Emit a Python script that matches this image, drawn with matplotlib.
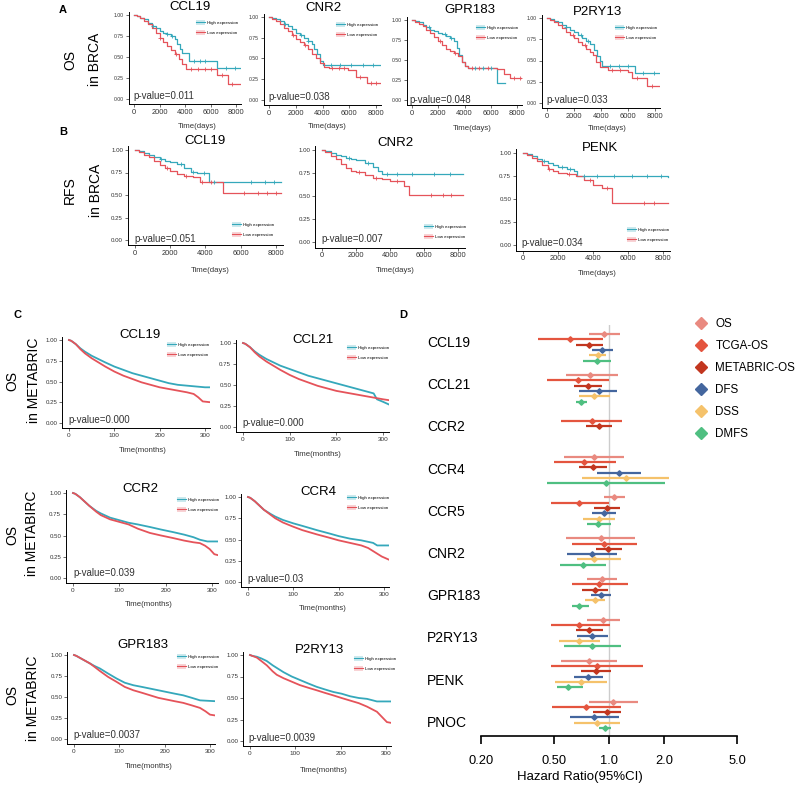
import numpy as np
import matplotlib.pyplot as plt
from matplotlib.lines import Line2D
from matplotlib.patches import Patch
from matplotlib.ticker import NullLocator
from matplotlib.transforms import blended_transform_factory

plt.rcParams['font.family'] = ['Liberation Sans', 'DejaVu Sans']

# ---------------- data: Kaplan-Meier curves ----------------
# A: OS in BRCA (days)
a1_hi_t = [0, 200, 500, 800, 1100, 1400, 1700, 2000, 2300, 2600, 2900, 3200, 3400, 3600, 3800, 4300, 6500, 8300]
a1_hi_s = [1, 0.99, 0.97, 0.95, 0.91, 0.87, 0.84, 0.81, 0.79, 0.77, 0.75, 0.71, 0.66, 0.59, 0.55, 0.45, 0.37, 0.37]
a1_lo_t = [0, 200, 500, 800, 1100, 1400, 1700, 2000, 2300, 2600, 2900, 3200, 3500, 3800, 4100, 6500, 7400, 8300]
a1_lo_s = [1, 0.99, 0.96, 0.93, 0.89, 0.84, 0.79, 0.73, 0.68, 0.63, 0.58, 0.53, 0.48, 0.42, 0.36, 0.28, 0.18, 0.18]
a1_hi_c = [1500, 2600, 3000, 4700, 5200, 5600, 7200, 7900]
a1_lo_c = [2000, 3300, 4500, 5000, 5600, 6000, 6900, 7700]

a2_hi_t = [0, 200, 500, 800, 1100, 1400, 1700, 2000, 2300, 2600, 2900, 3200, 3400, 3600, 3800, 4000, 8300]
a2_hi_s = [1, 0.99, 0.97, 0.95, 0.92, 0.89, 0.85, 0.81, 0.78, 0.75, 0.71, 0.67, 0.61, 0.55, 0.47, 0.42, 0.42]
a2_lo_t = [0, 200, 500, 800, 1100, 1400, 1700, 2000, 2300, 2600, 2900, 3200, 3500, 3800, 4100, 4500, 5900, 6500, 7300, 8300]
a2_lo_s = [1, 0.98, 0.95, 0.91, 0.87, 0.83, 0.78, 0.74, 0.70, 0.66, 0.61, 0.56, 0.51, 0.45, 0.40, 0.38, 0.36, 0.28, 0.20, 0.20]
a2_hi_c = [1200, 2400, 2900, 4600, 5300, 6100, 7000, 7800]
a2_lo_c = [1800, 2700, 4700, 5200, 5600, 6800, 7600, 8000]

a3_hi_t = [0, 200, 500, 800, 1100, 1400, 1700, 2000, 2300, 2600, 2900, 3200, 3400, 3600, 3800, 4000, 4300, 6500, 7100]
a3_hi_s = [1, 0.99, 0.97, 0.94, 0.91, 0.88, 0.86, 0.84, 0.82, 0.80, 0.78, 0.74, 0.65, 0.56, 0.48, 0.43, 0.40, 0.21, 0.21]
a3_lo_t = [0, 200, 500, 800, 1100, 1400, 1700, 2000, 2300, 2600, 2900, 3200, 3500, 3800, 4000, 4300, 6500, 7000, 7500, 8500]
a3_lo_s = [1, 0.98, 0.95, 0.92, 0.88, 0.84, 0.79, 0.74, 0.69, 0.64, 0.61, 0.59, 0.55, 0.48, 0.42, 0.40, 0.39, 0.33, 0.27, 0.27]
a3_hi_c = [1300, 2500, 3000, 4800, 5400, 6000]
a3_lo_c = [2100, 3300, 4600, 5100, 5800, 7800, 8200]

a4_hi_t = [0, 200, 500, 800, 1100, 1400, 1700, 2000, 2300, 2600, 2900, 3200, 3500, 3700, 3900, 4100, 6500, 8300]
a4_hi_s = [1, 0.99, 0.97, 0.95, 0.92, 0.89, 0.86, 0.83, 0.80, 0.77, 0.73, 0.69, 0.62, 0.55, 0.50, 0.44, 0.35, 0.35]
a4_lo_t = [0, 200, 500, 800, 1100, 1400, 1700, 2000, 2300, 2600, 2900, 3200, 3400, 3600, 3900, 4500, 6000, 6300, 7400, 8300]
a4_lo_s = [1, 0.98, 0.95, 0.92, 0.88, 0.84, 0.80, 0.76, 0.72, 0.68, 0.64, 0.60, 0.56, 0.48, 0.42, 0.39, 0.37, 0.30, 0.20, 0.20]
a4_hi_c = [1400, 2500, 3000, 4700, 5300, 6000, 7100, 7900]
a4_lo_c = [1900, 2800, 4800, 5400, 6700, 7800]

# B: RFS in BRCA (days)
b1_hi_t = [0, 200, 500, 800, 1100, 1400, 1700, 2000, 2400, 2800, 3200, 3500, 4200, 8300]
b1_hi_s = [1, 0.99, 0.97, 0.95, 0.92, 0.90, 0.88, 0.87, 0.84, 0.80, 0.76, 0.74, 0.65, 0.65]
b1_lo_t = [0, 200, 500, 800, 1100, 1400, 1700, 2000, 2400, 2800, 3300, 3700, 5000, 8300]
b1_lo_s = [1, 0.98, 0.95, 0.92, 0.88, 0.83, 0.80, 0.77, 0.73, 0.71, 0.70, 0.65, 0.52, 0.52]
b1_hi_c = [1500, 2600, 3300, 3900, 4500, 6600, 7400, 7900]
b1_lo_c = [1800, 2900, 3800, 4300, 6200, 7000, 7500, 8000]

b2_hi_t = [0, 200, 500, 800, 1100, 1400, 1700, 2000, 2500, 3000, 3300, 3500, 8300]
b2_hi_s = [1, 0.99, 0.97, 0.95, 0.93, 0.91, 0.90, 0.89, 0.86, 0.81, 0.77, 0.74, 0.74]
b2_lo_t = [0, 200, 500, 800, 1100, 1400, 1700, 2000, 2500, 3000, 3500, 4000, 4800, 5100, 8300]
b2_lo_s = [1, 0.98, 0.94, 0.90, 0.85, 0.80, 0.77, 0.76, 0.73, 0.70, 0.68, 0.66, 0.61, 0.51, 0.51]
b2_hi_c = [1600, 2700, 3800, 4400, 5300, 6600, 7500]
b2_lo_c = [2200, 3200, 4400, 6400, 7100, 7600]

b3_hi_t = [0, 200, 500, 800, 1100, 1400, 1700, 2000, 2500, 2900, 3100, 8300]
b3_hi_s = [1, 0.99, 0.97, 0.94, 0.91, 0.89, 0.87, 0.85, 0.83, 0.80, 0.75, 0.74]
b3_lo_t = [0, 200, 500, 800, 1100, 1400, 1700, 2000, 2500, 3000, 3500, 4000, 4500, 5100, 8300]
b3_lo_s = [1, 0.98, 0.95, 0.91, 0.87, 0.83, 0.80, 0.78, 0.77, 0.75, 0.71, 0.65, 0.62, 0.46, 0.46]
b3_hi_c = [1200, 2200, 2700, 3500, 4200, 5200, 6200, 7100, 7900]
b3_lo_c = [1500, 2600, 3800, 4800, 6900, 7500]

# C: OS in METABRIC (months)
c1_hi_t = [0, 5, 15, 25, 35, 50, 65, 80, 100, 120, 140, 160, 180, 200, 220, 240, 260, 280, 300, 312]
c1_hi_s = [1, 0.99, 0.95, 0.90, 0.86, 0.81, 0.77, 0.73, 0.68, 0.64, 0.60, 0.57, 0.54, 0.51, 0.48, 0.46, 0.45, 0.44, 0.43, 0.43]
c1_lo_t = [0, 5, 15, 25, 35, 50, 65, 80, 100, 120, 140, 160, 180, 200, 220, 240, 260, 275, 285, 295, 312]
c1_lo_s = [1, 0.99, 0.95, 0.89, 0.84, 0.78, 0.73, 0.68, 0.62, 0.57, 0.53, 0.49, 0.46, 0.43, 0.41, 0.39, 0.37, 0.35, 0.31, 0.26, 0.25]

c2_hi_t = [0, 5, 15, 25, 35, 50, 65, 80, 100, 120, 140, 160, 180, 200, 220, 240, 260, 280, 287, 300, 312]
c2_hi_s = [1, 0.99, 0.95, 0.90, 0.86, 0.81, 0.77, 0.73, 0.69, 0.65, 0.61, 0.58, 0.55, 0.52, 0.49, 0.46, 0.43, 0.40, 0.33, 0.30, 0.27]
c2_lo_t = [0, 5, 15, 25, 35, 50, 65, 80, 100, 120, 140, 160, 180, 200, 220, 240, 260, 280, 300, 312]
c2_lo_s = [1, 0.99, 0.95, 0.89, 0.84, 0.78, 0.73, 0.68, 0.62, 0.57, 0.53, 0.49, 0.46, 0.43, 0.41, 0.39, 0.37, 0.35, 0.33, 0.32]

c3_hi_t = [0, 5, 15, 25, 35, 50, 60, 80, 100, 120, 140, 166, 190, 216, 240, 260, 274, 290, 312]
c3_hi_s = [1, 0.99, 0.95, 0.90, 0.85, 0.79, 0.76, 0.71, 0.68, 0.65, 0.63, 0.60, 0.57, 0.54, 0.51, 0.48, 0.45, 0.43, 0.43]
c3_lo_t = [0, 5, 15, 25, 35, 50, 60, 80, 100, 120, 140, 166, 190, 216, 240, 260, 274, 285, 295, 305, 312]
c3_lo_s = [1, 0.99, 0.95, 0.90, 0.85, 0.78, 0.74, 0.69, 0.66, 0.63, 0.58, 0.53, 0.50, 0.47, 0.44, 0.42, 0.41, 0.38, 0.34, 0.28, 0.27]

c4_hi_t = [0, 5, 15, 25, 35, 50, 60, 77, 100, 120, 152, 180, 200, 225, 250, 276, 285, 312]
c4_hi_s = [1, 0.99, 0.95, 0.90, 0.85, 0.80, 0.77, 0.73, 0.69, 0.66, 0.61, 0.57, 0.54, 0.51, 0.49, 0.46, 0.43, 0.43]
c4_lo_t = [0, 5, 15, 25, 35, 50, 60, 77, 100, 120, 152, 180, 200, 225, 250, 265, 280, 295, 312]
c4_lo_s = [1, 0.99, 0.95, 0.90, 0.85, 0.79, 0.75, 0.70, 0.65, 0.61, 0.56, 0.52, 0.49, 0.46, 0.43, 0.40, 0.35, 0.30, 0.26]

c5_hi_t = [0, 5, 15, 25, 35, 45, 57, 75, 94, 112, 131, 150, 168, 186, 204, 222, 241, 260, 278, 312]
c5_hi_s = [1, 0.99, 0.96, 0.93, 0.90, 0.87, 0.84, 0.78, 0.72, 0.67, 0.64, 0.62, 0.60, 0.58, 0.56, 0.54, 0.52, 0.49, 0.46, 0.45]
c5_lo_t = [0, 5, 15, 25, 35, 45, 57, 75, 94, 112, 131, 150, 168, 186, 204, 222, 241, 260, 278, 290, 300, 312]
c5_lo_s = [1, 0.99, 0.96, 0.93, 0.90, 0.86, 0.81, 0.74, 0.68, 0.62, 0.58, 0.55, 0.52, 0.49, 0.47, 0.45, 0.43, 0.40, 0.37, 0.33, 0.29, 0.28]

c6_hi_t = [0, 5, 15, 25, 37, 50, 62, 74, 92, 110, 128, 147, 165, 184, 202, 221, 240, 258, 280, 312]
c6_hi_s = [1, 0.99, 0.98, 0.96, 0.93, 0.88, 0.84, 0.80, 0.75, 0.71, 0.67, 0.63, 0.60, 0.57, 0.55, 0.52, 0.50, 0.49, 0.46, 0.46]
c6_lo_t = [0, 5, 15, 25, 37, 50, 59, 74, 92, 110, 128, 147, 165, 184, 202, 221, 240, 258, 280, 291, 302, 312]
c6_lo_s = [1, 0.99, 0.97, 0.93, 0.88, 0.81, 0.77, 0.73, 0.69, 0.65, 0.62, 0.59, 0.56, 0.53, 0.50, 0.47, 0.44, 0.40, 0.34, 0.28, 0.22, 0.21]

# ---------------- data: forest plot (D) ----------------
genes = ['CCL19', 'CCL21', 'CCR2', 'CCR4', 'CCR5', 'CNR2', 'GPR183', 'P2RY13', 'PENK', 'PNOC']
nan = np.nan
os_hr = [0.94, 0.79, nan, 0.83, 1.07, 0.90, 0.92, 0.93, 0.78, 1.05]
os_lo = [0.78, 0.58, nan, 0.57, 0.94, 0.58, 0.76, 0.76, 0.55, 0.78]
os_hi = [1.15, 1.12, nan, 1.21, 1.22, 1.39, 1.11, 1.15, 1.11, 1.44]
tcga_hr = [0.61, 0.68, 0.81, 0.73, 0.69, 0.94, 0.88, 0.69, 0.86, 0.75]
tcga_lo = [0.41, 0.46, 0.55, 0.50, 0.48, 0.63, 0.63, 0.48, 0.48, 0.49]
tcga_hi = [0.93, 1.00, 1.18, 1.09, 1.00, 1.42, 1.27, 1.01, 1.53, 1.16]
metabric_hr = [0.78, 0.77, 0.88, 0.82, 0.97, 0.99, 0.84, 0.78, 0.85, 0.98]
metabric_lo = [0.66, 0.64, 0.75, 0.69, 0.83, 0.85, 0.71, 0.66, 0.70, 0.82]
metabric_hi = [0.93, 0.92, 1.04, 0.98, 1.15, 1.18, 0.99, 0.93, 1.03, 1.16]
dfs_hr = [0.92, 0.88, nan, 1.13, 0.94, 0.81, 0.90, 0.81, 0.77, 0.83]
dfs_lo = [0.81, 0.69, nan, 0.86, 0.81, 0.59, 0.80, 0.67, 0.64, 0.61]
dfs_hi = [1.05, 1.11, nan, 1.50, 1.09, 1.11, 1.03, 0.99, 0.93, 1.13]
dss_hr = [0.87, 0.83, nan, 1.24, 0.88, 0.83, 0.84, 0.69, 0.70, 0.86]
dss_lo = [0.78, 0.69, nan, 0.71, 0.72, 0.67, 0.74, 0.53, 0.51, 0.64]
dss_hi = [0.96, 1.01, nan, 2.13, 1.08, 1.16, 0.95, 0.89, 0.98, 1.15]
dmfs_hr = [0.86, 0.70, nan, 0.96, 0.87, 0.72, 0.69, 0.81, 0.60, 0.95]
dmfs_lo = [0.72, 0.66, nan, 0.46, 0.76, 0.54, 0.63, 0.57, 0.52, 0.88]
dmfs_hi = [1.03, 0.76, nan, 2.02, 1.03, 0.96, 0.78, 1.16, 0.72, 1.03]
endpoints = ['OS', 'TCGA-OS', 'METABRIC-OS', 'DFS', 'DSS', 'DMFS']
ep_colors = ['#E98A80', '#E4553F', '#C2361F', '#44669E', '#F5C26B', '#4FBF81']

# ---------------- figure ----------------
W, H = 796, 785
fig = plt.figure(figsize=(W / 100, H / 100), dpi=100)
HIGH = '#35A8BB'
LOW = '#E5535A'
TXT = '#333333'


def px(x, y):
    return x / W, 1 - y / H


def ftext(x, y, s, **kw):
    fig.text(x / W, 1 - y / H, s, **kw)


def km_axes(x0, x1, y1, y0, xval, xlim, ylim=(-0.06, 1.04)):
    # x0/x1 pixel of time 0 and xval, y1/y0 pixel of survival 1 and 0
    sx = (x1 - x0) / xval
    sy = y0 - y1
    left = x0 + xlim[0] * sx
    right = x0 + xlim[1] * sx
    top = y0 - ylim[1] * sy
    bottom = y0 - ylim[0] * sy
    ax = fig.add_axes([left / W, 1 - bottom / H, (right - left) / W, (bottom - top) / H])
    ax.set_xlim(xlim)
    ax.set_ylim(ylim)
    for sp in ['top', 'right']:
        ax.spines[sp].set_visible(False)
    for sp in ['left', 'bottom']:
        ax.spines[sp].set_linewidth(0.7)
    ax.set_yticks([0, 0.25, 0.5, 0.75, 1.0])
    ax.set_yticklabels(['0.00', '0.25', '0.50', '0.75', '1.00'])
    ax.tick_params(length=2, width=0.5, pad=1.5, colors=TXT)
    return ax


def step_at(t, s, c):
    idx = np.searchsorted(t, c, side='right') - 1
    return np.array(s)[idx]


def km_days(ax, hi_t, hi_s, lo_t, lo_s, hi_c, lo_c):
    ax.step(hi_t, hi_s, where='post', color=HIGH, lw=0.9)
    ax.step(lo_t, lo_s, where='post', color=LOW, lw=0.9)
    ax.plot(hi_c, step_at(hi_t, hi_s, hi_c), '+', color=HIGH, ms=2.6, mew=0.6)
    ax.plot(lo_c, step_at(lo_t, lo_s, lo_c), '+', color=LOW, ms=2.6, mew=0.6)
    ax.set_xticks([0, 2000, 4000, 6000, 8000])


def km_months(ax, hi_t, hi_s, lo_t, lo_s):
    ax.plot(hi_t, hi_s, color=HIGH, lw=1.3)
    ax.plot(lo_t, lo_s, color=LOW, lw=1.3)
    ax.set_xticks([0, 100, 200, 300])


def km_legend(ax, x, y):
    hands = [(Patch(facecolor=HIGH, alpha=0.25, edgecolor='none'), Line2D([], [], color=HIGH, lw=0.8)),
             (Patch(facecolor=LOW, alpha=0.25, edgecolor='none'), Line2D([], [], color=LOW, lw=0.8))]
    ax.legend(hands, ['High expression', 'Low expression'], loc='upper left',
              bbox_to_anchor=px(x, y), bbox_transform=fig.transFigure, frameon=False,
              fontsize=3.2, handlelength=2.0, handleheight=1.4, handletextpad=0.5,
              labelspacing=1.0, borderpad=0, borderaxespad=0)


DAYS = (-400, 8400)
MONTHS = (-15, 312)

# ---- panel A ----
A = [
    (134, 236, 15, 99, a1_hi_t, a1_hi_s, a1_lo_t, a1_lo_s, a1_hi_c, a1_lo_c, 'CCL19', (190, 7), 'p-value=0.011', (133, 96), (196, 20), (197, 127)),
    (269, 376, 17, 100, a2_hi_t, a2_hi_s, a2_lo_t, a2_lo_s, a2_hi_c, a2_lo_c, 'CNR2', (323, 8), 'p-value=0.038', (268, 97), (336, 22), (327, 127)),
    (412, 517, 20, 100, a3_hi_t, a3_hi_s, a3_lo_t, a3_lo_s, a3_hi_c, a3_lo_c, 'GPR183', (470, 10), 'p-value=0.048', (409, 100), (476, 25), (472, 128)),
    (547, 655, 18, 103, a4_hi_t, a4_hi_s, a4_lo_t, a4_lo_s, a4_hi_c, a4_lo_c, 'P2RY13', (598, 12), 'p-value=0.033', (546, 100), (615, 25), (607, 128)),
]
for x0, x1, y1, y0, ht, hs, lt, ls, hc, lc, title, tpos, pv, ppos, lpos, xlpos in A:
    ax = km_axes(x0, x1, y1, y0, 8000, DAYS)
    km_days(ax, ht, hs, lt, ls, hc, lc)
    ax.tick_params(axis='y', labelsize=3.7)
    ax.tick_params(axis='x', labelsize=5.4)
    km_legend(ax, *lpos)
    ftext(*tpos, title, ha='center', va='center', fontsize=9.5)
    ftext(*ppos, pv, ha='left', va='center', fontsize=7, color=TXT)
    ftext(*xlpos, 'Time(days)', ha='center', va='center', fontsize=5.6, color=TXT)

# ---- panel B ----
B = [
    (135, 276, 150, 240, b1_hi_t, b1_hi_s, b1_lo_t, b1_lo_s, b1_hi_c, b1_lo_c, 'CCL19', (205, 141), 'p-value=0.051', (134, 239), (232, 222), (210, 271)),
    (322, 458, 150, 242, b2_hi_t, b2_hi_s, b2_lo_t, b2_lo_s, b2_hi_c, b2_lo_c, 'CNR2', (395, 143), 'p-value=0.007', (321, 239), (424, 224), (395, 271)),
    (523, 663, 153, 245, b3_hi_t, b3_hi_s, b3_lo_t, b3_lo_s, b3_hi_c, b3_lo_c, 'PENK', (600, 148), 'p-value=0.034', (521, 243), (627, 227), (597, 274)),
]
for x0, x1, y1, y0, ht, hs, lt, ls, hc, lc, title, tpos, pv, ppos, lpos, xlpos in B:
    ax = km_axes(x0, x1, y1, y0, 8000, DAYS)
    km_days(ax, ht, hs, lt, ls, hc, lc)
    ax.tick_params(axis='y', labelsize=4.4)
    ax.tick_params(axis='x', labelsize=5.4)
    km_legend(ax, *lpos)
    ftext(*tpos, title, ha='center', va='center', fontsize=9.5)
    ftext(*ppos, pv, ha='left', va='center', fontsize=7, color=TXT)
    ftext(*xlpos, 'Time(days)', ha='center', va='center', fontsize=5.6, color=TXT)

# ---- panel C ----
C = [
    (69, 205, 340, 423, c1_hi_t, c1_hi_s, c1_lo_t, c1_lo_s, 'CCL19', (140, 335), 'p-value=0.000', (68, 420), (167, 342), (143, 451)),
    (243, 383, 343, 427, c2_hi_t, c2_hi_s, c2_lo_t, c2_lo_s, 'CCL21', (313, 340), 'p-value=0.000', (242, 423), (347, 345), (318, 454)),
    (73, 212, 493, 578, c3_hi_t, c3_hi_s, c3_lo_t, c3_lo_s, 'CCR2', (140, 489), 'p-value=0.039', (73, 573), (177, 497), (149, 604)),
    (248, 384, 497, 582, c4_hi_t, c4_hi_s, c4_lo_t, c4_lo_s, 'CCR4', (318, 492), 'p-value=0.03', (247, 579), (347, 495), (323, 609)),
    (74, 210, 655, 739, c5_hi_t, c5_hi_s, c5_lo_t, c5_lo_s, 'GPR183', (143, 645), 'p-value=0.0037', (73, 735), (177, 654), (149, 766)),
    (250, 386, 655, 741, c6_hi_t, c6_hi_s, c6_lo_t, c6_lo_s, 'P2RY13', (320, 650), 'p-value=0.0039', (248, 738), (354, 656), (324, 770)),
]
for x0, x1, y1, y0, ht, hs, lt, ls, title, tpos, pv, ppos, lpos, xlpos in C:
    ax = km_axes(x0, x1, y1, y0, 300, MONTHS)
    km_months(ax, ht, hs, lt, ls)
    ax.tick_params(axis='y', labelsize=4.4)
    ax.tick_params(axis='x', labelsize=4.6)
    km_legend(ax, *lpos)
    ftext(*tpos, title, ha='center', va='center', fontsize=9.5)
    ftext(*ppos, pv, ha='left', va='center', fontsize=7, color=TXT)
    ftext(*xlpos, 'Time(months)', ha='center', va='center', fontsize=5.6, color=TXT)

# ---- row labels and panel letters ----
for x, y, s in [(70, 60, 'OS'), (95, 59, 'in BRCA'), (70, 190, 'RFS'), (96, 190, 'in BRCA'),
                (12, 381, 'OS'), (34, 380, 'in METABRIC'), (12, 535, 'OS'), (32, 533, 'in METABIRC'),
                (12, 695, 'OS'), (33, 698, 'in METABRIC')]:
    ftext(x, y, s, rotation=90, ha='center', va='center', fontsize=10)
for x, y, s in [(63, 10, 'A'), (63, 132, 'B'), (18, 315, 'C'), (403, 315, 'D')]:
    ftext(x, y, s, ha='center', va='center', fontsize=8, fontweight='bold')

# ---- panel D: forest plot ----
xl, xr, yt, yb = 481, 737, 325, 736
axd = fig.add_axes([xl / W, 1 - yb / H, (xr - xl) / W, (yb - yt) / H])
axd.set_xscale('log')
axd.set_xlim(0.2, 5)
axd.set_ylim(9.52, -0.55)
axd.axvline(1, color='#CCCCCC', lw=1, zorder=0)
series = [(os_hr, os_lo, os_hi), (tcga_hr, tcga_lo, tcga_hi), (metabric_hr, metabric_lo, metabric_hi),
          (dfs_hr, dfs_lo, dfs_hi), (dss_hr, dss_lo, dss_hi), (dmfs_hr, dmfs_lo, dmfs_hi)]
base = np.arange(len(genes))
for k, (hr, lo, hi) in enumerate(series):
    hr, lo, hi = np.array(hr), np.array(lo), np.array(hi)
    m = ~np.isnan(hr)
    y = base + (k - 2.5) * 0.13
    axd.hlines(y[m], lo[m], hi[m], color=ep_colors[k], lw=1.6)
    axd.plot(hr[m], y[m], 'D', color=ep_colors[k], ms=2.8, lw=0)
for sp in ['top', 'right', 'left']:
    axd.spines[sp].set_visible(False)
axd.spines['bottom'].set_linewidth(1.2)
axd.set_yticks([])
axd.set_xticks([0.2, 0.5, 1, 2, 5])
axd.set_xticklabels(['0.20', '0.50', '1.0', '2.0', '5.0'])
axd.xaxis.set_minor_locator(NullLocator())
axd.tick_params(axis='x', length=6, width=1.2, pad=8, labelsize=9.3)
trans = blended_transform_factory(axd.transAxes, axd.transData)
for i, g in enumerate(genes):
    axd.text(-0.211, i * 1.034 - 0.11, g, transform=trans, ha='left', va='center', fontsize=10)
ftext(580, 777, 'Hazard Ratio(95%CI)', ha='center', va='center', fontsize=9.5)

hands = [Line2D([], [], color=c, marker='D', ms=6.5, lw=0) for c in ep_colors]
fig.legend(hands, endpoints, loc='upper left', bbox_to_anchor=px(695, 318), frameon=False,
           fontsize=8.4, handlelength=1.0, handletextpad=0.75, labelspacing=0.85,
           borderpad=0, borderaxespad=0)

fig.savefig('out.png', dpi=100)
